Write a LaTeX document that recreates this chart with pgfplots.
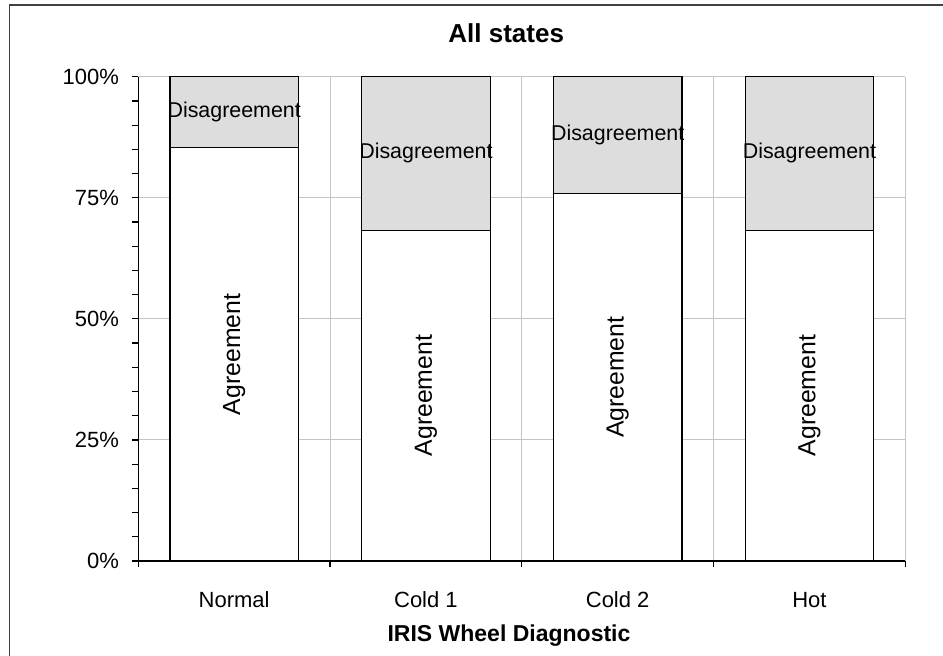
\documentclass[border=0pt]{standalone}
\usepackage{pgfplots}
\pgfplotsset{compat=1.18}
\usepackage{fontspec}
\setmainfont{Liberation Sans}
\definecolor{dis}{HTML}{DDDDDD}
\definecolor{gridc}{HTML}{C4C4C4}
\definecolor{framec}{HTML}{404040}
\begin{document}
\begin{tikzpicture}
\useasboundingbox (0,0) rectangle (471.5pt,327.5pt);
\draw[framec, line width=0.8pt] (4.65pt,-20pt) -- (4.65pt,325pt) -- (500pt,325pt);
\begin{axis}[
  at={(69.15pt,47pt)}, anchor=south west,
  scale only axis, width=383.5pt, height=242.15pt,
  ybar stacked, bar width=0.67,
  xmin=-0.5, xmax=3.5, ymin=0, ymax=100,
  axis x line*=bottom, axis y line*=left,
  axis line style={black, line width=0.6pt},
  tick align=outside, major tick length=3.2pt, minor tick length=3.2pt,
  tick style={black, line width=0.6pt},
  xtick={-0.5,0.5,1.5,2.5,3.5}, xticklabels={},
  xmajorgrids,
  extra x ticks={0,1,2,3},
  extra x tick labels={Normal,Cold 1,Cold 2,Hot},
  extra x tick style={major tick length=0pt, grid=none,
     tick label style={anchor=base, yshift=-23.2pt}},
  ytick={0,25,50,75,100}, minor y tick num=4,
  ymajorgrids,
  grid style={gridc, line width=0.5pt},
  yticklabel={\pgfmathprintnumber{\tick}\%},
  /pgf/number format/assume math mode=true,
  yticklabel style={xshift=-3pt},
  tick label style={font=\fontsize{11}{13}\selectfont, black},
  title={All states},
  title style={font=\bfseries\fontsize{13}{15}\selectfont, anchor=base,
     at={(axis description cs:0.4797,1)}, yshift=11pt},
  xlabel={IRIS Wheel Diagnostic},
  xlabel style={font=\bfseries\fontsize{11.5}{13}\selectfont, anchor=base,
     at={(axis description cs:0.4833,0)}, yshift=-40.3pt},
]
\addplot[fill=white, draw=black, line width=0.6pt] coordinates {(0,85.3) (1,68.3) (2,75.9) (3,68.3)};
\addplot[fill=dis, draw=black, line width=0.6pt] coordinates {(0,14.7) (1,31.7) (2,24.1) (3,31.7)};
\coordinate (a0) at (axis cs:0,42.65);
\coordinate (a1) at (axis cs:1,34.15);
\coordinate (a2) at (axis cs:2,37.95);
\coordinate (a3) at (axis cs:3,34.15);
\coordinate (d0) at (axis cs:0,92.65);
\coordinate (d1) at (axis cs:1,84.15);
\coordinate (d2) at (axis cs:2,87.95);
\coordinate (d3) at (axis cs:3,84.15);
\end{axis}
\foreach \c in {a0,a1,a2,a3}
  \node[rotate=90, font=\fontsize{12.4}{14}\selectfont] at (\c) {Agreement};
\foreach \c in {d0,d1,d2,d3}
  \node[font=\fontsize{10.7}{12}\selectfont] at (\c) {Disagreement};
\end{tikzpicture}
\end{document}
